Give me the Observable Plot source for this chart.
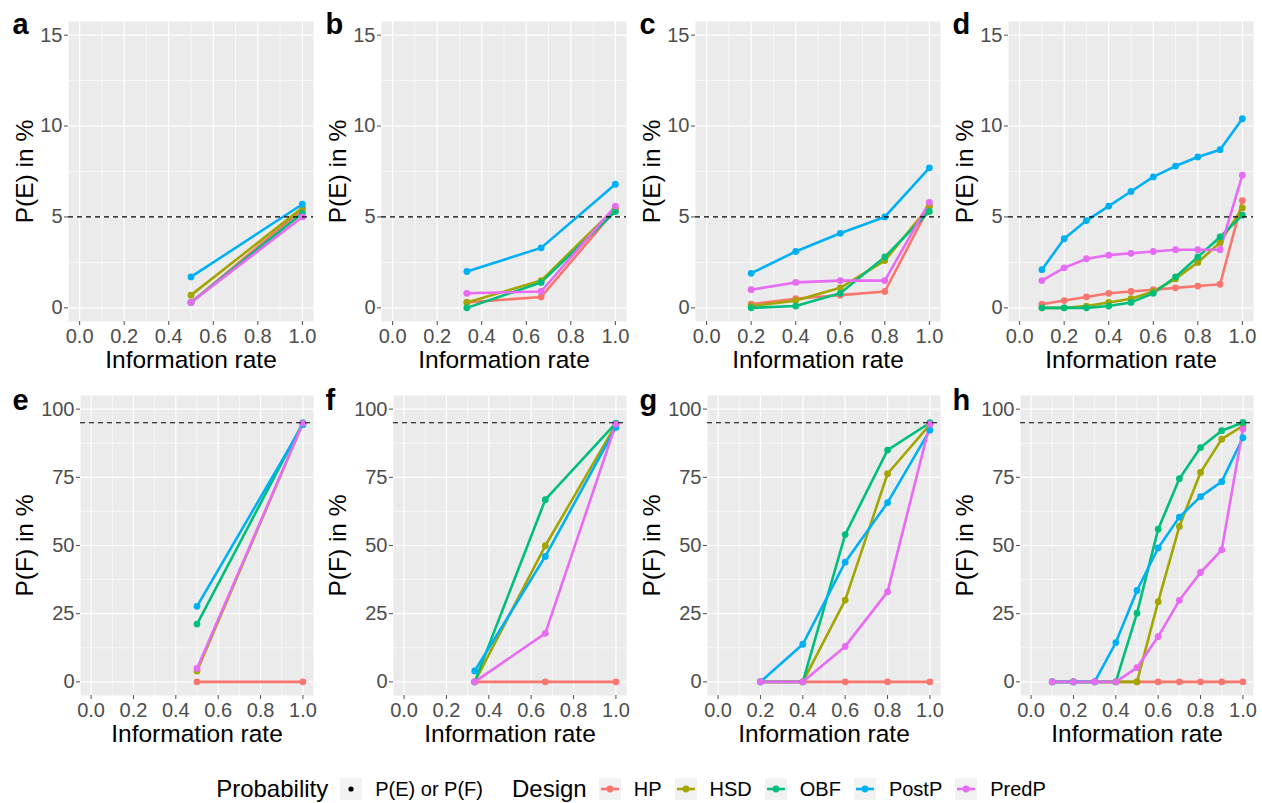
<!DOCTYPE html>
<html><head><meta charset="utf-8">
<script src="https://cdn.jsdelivr.net/npm/d3@7"></script>
<script src="https://cdn.jsdelivr.net/npm/@observablehq/plot@0.6"></script>
<style>
body{margin:0;background:#fff;font-family:"Liberation Sans",Arial,Helvetica,sans-serif;}
#root{position:relative;width:1262px;height:803px;overflow:hidden;background:#fff}
.panel{position:absolute}
#legend{position:absolute;left:0;top:778px;width:1262px;height:22px;display:flex;justify-content:center;align-items:center;color:#000}
#legend .title{font-size:24px;margin-right:12px}
#legend .title2{margin-left:29px}
#legend .lab{font-size:20px;margin-left:13px}
#legend .key{width:22px;height:22px;background:#f2f2f2;display:block}
#legend .gap{margin-left:13px}
</style>
</head><body><div id="root"></div>
<script>
// ---- data ----
const designs = ["HP", "HSD", "OBF", "PostP", "PredP"];
const designColors = ["#F8766D", "#A3A500", "#00BF7D", "#00B0F6", "#E76BF3"];
const panelLetters = ["a", "b", "c", "d", "e", "f", "g", "h"];

const x2 = [0.5, 1.0];
const x3 = [1 / 3, 2 / 3, 1.0];
const x5 = [0.2, 0.4, 0.6, 0.8, 1.0];
const x10 = [0.1, 0.2, 0.3, 0.4, 0.5, 0.6, 0.7, 0.8, 0.9, 1.0];

// P(E) in %, rows in design order HP, HSD, OBF, PostP, PredP
const pE_a = [[0.3, 5.4], [0.7, 5.5], [0.3, 5.2], [1.7, 5.7], [0.3, 5.0]];
const pE_b = [[0.3, 0.6, 5.4], [0.3, 1.5, 5.5], [0.0, 1.4, 5.3], [2.0, 3.3, 6.8], [0.8, 0.9, 5.6]];
const pE_c = [
  [0.2, 0.5, 0.7, 0.9, 5.6],
  [0.1, 0.4, 1.1, 2.6, 5.6],
  [0.0, 0.1, 0.8, 2.8, 5.3],
  [1.9, 3.1, 4.1, 5.0, 7.7],
  [1.0, 1.4, 1.5, 1.5, 5.8]
];
const pE_d = [
  [0.2, 0.4, 0.6, 0.8, 0.9, 1.0, 1.1, 1.2, 1.3, 5.9],
  [0.0, 0.0, 0.1, 0.3, 0.5, 0.9, 1.6, 2.5, 3.6, 5.5],
  [0.0, 0.0, 0.0, 0.1, 0.3, 0.8, 1.7, 2.8, 3.9, 5.1],
  [2.1, 3.8, 4.8, 5.6, 6.4, 7.2, 7.8, 8.3, 8.7, 10.4],
  [1.5, 2.2, 2.7, 2.9, 3.0, 3.1, 3.2, 3.2, 3.2, 7.3]
];
// P(F) in %
const pF_e = [[0, 0], [4.0, 94.8], [21.2, 95.0], [27.7, 94.3], [4.9, 94.8]];
const pF_f = [[0, 0, 0], [0, 49.9, 94.3], [0, 66.8, 94.9], [4.0, 46.0, 93.3], [0, 17.8, 94.5]];
const pF_g = [
  [0, 0, 0, 0, 0],
  [0, 0, 30.0, 76.3, 94.3],
  [0, 0, 54.0, 85.0, 95.0],
  [0, 13.8, 43.9, 65.7, 92.3],
  [0, 0, 13.0, 33.0, 94.5]
];
const pF_h = [
  [0, 0, 0, 0, 0, 0, 0, 0, 0, 0],
  [0, 0, 0, 0, 0, 29.4, 57.0, 76.8, 89.0, 93.9],
  [0, 0, 0, 0, 25.2, 56.0, 74.5, 85.9, 92.1, 95.1],
  [0, 0, 0, 14.4, 33.5, 49.1, 60.4, 67.9, 73.4, 89.5],
  [0, 0, 0, 0, 5.2, 16.6, 29.9, 40.1, 48.4, 92.7]
];

const xTicks = [0, 0.2, 0.4, 0.6, 0.8, 1.0];
const xMinor = [0.1, 0.3, 0.5, 0.7, 0.9];
const yTicksE = [0, 5, 10, 15];
const yMinorE = [2.5, 7.5, 12.5];
const yTicksF = [0, 25, 50, 75, 100];
const yMinorF = [12.5, 37.5, 62.5, 87.5];
const thresholdE = [5];
const thresholdF = [95];
const xLabel = "Information rate";
const yLabelE = "P(E) in %";
const yLabelF = "P(F) in %";
const legendProbTitle = "Probability";
const legendProbLabel = "P(E) or P(F)";
const legendDesignTitle = "Design";

// ---- layout ----
const FONT = '"Liberation Sans", Arial, Helvetica, sans-serif';
const root = document.getElementById("root");

const panels = [
  [x2, pE_a], [x3, pE_b], [x5, pE_c], [x10, pE_d],
  [x2, pF_e], [x3, pF_f], [x5, pF_g], [x10, pF_h]
];

panels.forEach(([xs, vals], k) => {
  const row = k < 4 ? 0 : 1;
  const col = k % 4;
  const top = row === 0;
  const data = [];
  designs.forEach((d, i) => vals[i].forEach((v, j) => data.push({design: d, x: xs[j], y: v})));
  const ml = top ? 68 : 80;
  const mt = top ? 21 : 20;
  const yTicks = top ? yTicksE : yTicksF;
  const yMinor = top ? yMinorE : yMinorF;
  const chart = Plot.plot({
    width: 313,
    height: top ? 375 : 380,
    marginLeft: ml,
    marginRight: 0,
    marginTop: mt,
    marginBottom: top ? 54 : 60,
    style: {fontFamily: FONT, background: "transparent", color: "black", overflow: "visible"},
    x: {domain: [-0.05, 1.05]},
    y: {domain: top ? [-0.75, 15.75] : [-5, 105]},
    color: {domain: designs, range: designColors},
    marks: [
      Plot.frame({fill: "#EBEBEB", stroke: "none"}),
      Plot.ruleX(xMinor, {stroke: "white", strokeWidth: 0.6}),
      Plot.ruleY(yMinor, {stroke: "white", strokeWidth: 0.6}),
      Plot.gridX(xTicks, {stroke: "white", strokeOpacity: 1, strokeWidth: 1.2}),
      Plot.gridY(yTicks, {stroke: "white", strokeOpacity: 1, strokeWidth: 1.2}),
      Plot.axisX(xTicks, {tickFormat: d3.format(".1f"), tickSize: 4, tickPadding: 3, fontSize: 20, color: "#4D4D4D", label: null}),
      Plot.axisY(yTicks, {tickFormat: d3.format("d"), tickSize: 4, tickPadding: 2, fontSize: 20, color: "#4D4D4D", label: null}),
      Plot.line(data, {x: "x", y: "y", stroke: "design", z: "design", strokeWidth: 2.6}),
      Plot.dot(data, {x: "x", y: "y", fill: "design", r: 3.4}),
      Plot.ruleY(top ? thresholdE : thresholdF, {stroke: "black", strokeWidth: 1.2, strokeDasharray: "5,4"}),
      Plot.text([xLabel], {text: d => d, frameAnchor: "bottom", dy: 46, lineAnchor: "bottom", fontSize: 24.5, fill: "black"}),
      Plot.text([top ? yLabelE : yLabelF], {text: d => d, frameAnchor: "left", dx: 32 - ml, rotate: -90, textAnchor: "middle", lineAnchor: "bottom", fontSize: 24.5, fill: "black"}),
      Plot.text([panelLetters[k]], {text: d => d, frameAnchor: "top-left", dx: 12 - ml, dy: top ? 12 : 14, textAnchor: "start", lineAnchor: "bottom", fontSize: 29, fontWeight: "bold", fill: "black"})
    ]
  });
  chart.classList.add("panel");
  chart.style.left = Math.round(col * 313.33) + "px";
  chart.style.top = (top ? 0 : 375) + "px";
  root.appendChild(chart);
});

// ---- legend ----
const legend = document.createElement("div");
legend.id = "legend";
const svgNS = "http://www.w3.org/2000/svg";
function key(color, withLine) {
  const s = document.createElementNS(svgNS, "svg");
  s.setAttribute("class", "key");
  s.setAttribute("width", 22); s.setAttribute("height", 22);
  const bg = document.createElementNS(svgNS, "rect");
  bg.setAttribute("width", 22); bg.setAttribute("height", 22); bg.setAttribute("fill", "#F2F2F2");
  s.appendChild(bg);
  if (withLine) {
    const l = document.createElementNS(svgNS, "line");
    l.setAttribute("x1", 2); l.setAttribute("x2", 20); l.setAttribute("y1", 11); l.setAttribute("y2", 11);
    l.setAttribute("stroke", color); l.setAttribute("stroke-width", 2.6);
    s.appendChild(l);
  }
  const c = document.createElementNS(svgNS, "circle");
  c.setAttribute("cx", 11); c.setAttribute("cy", 11); c.setAttribute("r", withLine ? 3.4 : 2.6);
  c.setAttribute("fill", color);
  s.appendChild(c);
  return s;
}
function span(cls, txt) {
  const e = document.createElement("span");
  e.className = cls; e.textContent = txt; return e;
}
legend.appendChild(span("title", legendProbTitle));
legend.appendChild(key("black", false));
legend.appendChild(span("lab", legendProbLabel));
legend.appendChild(span("title title2", legendDesignTitle));
designs.forEach((d, i) => {
  const k = key(designColors[i], true);
  if (i > 0) k.classList.add("gap");
  legend.appendChild(k);
  legend.appendChild(span("lab", d));
});
root.appendChild(legend);
</script>
</body></html>
